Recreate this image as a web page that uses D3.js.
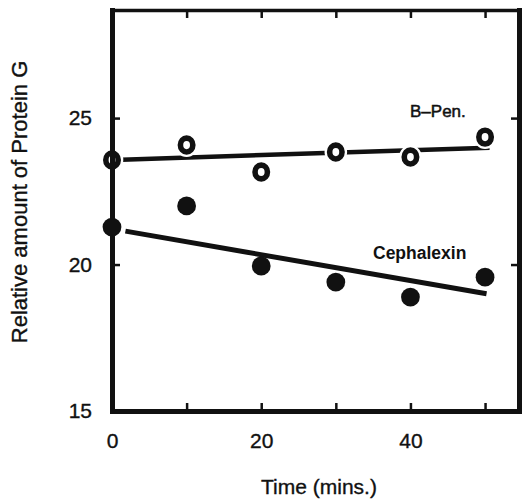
<!DOCTYPE html>
<html>
<head>
<meta charset="utf-8">
<script src="https://cdn.jsdelivr.net/npm/d3@7"></script>
<style>
  html, body { margin: 0; padding: 0; background: #fff; }
  svg { display: block; font-family: "Liberation Sans", Arial, Helvetica, sans-serif; }
</style>
</head>
<body>
<svg id="chart" width="526" height="501"></svg>
<script>
// ---- data ----
const times = [0, 10, 20, 30, 40, 50];
const bPen = [23.57, 24.08, 23.16, 23.84, 23.67, 24.35];
const cephalexin = [21.28, 22.0, 19.95, 19.40, 18.89, 19.57];
// fitted trend lines (end points as drawn)
const bPenFitT = [1.3, 50.6];
const bPenFitV = [23.58, 23.99];
const cephFitT = [1.8, 50.2];
const cephFitV = [21.14, 19.0];
const xTicks = [0, 10, 20, 30, 40, 50];
const xTickLabels = ["0", "", "20", "", "40", ""];
const yTicks = [15, 20, 25];
const seriesLabels = ["B–Pen.", "Cephalexin"];
const xTitle = "Time (mins.)";
const yTitle = "Relative amount of Protein G";

// ---- layout ----
const svg = d3.select("#chart");
const pLeft = 112, pRight = 519, pTop = 10, pBottom = 411;
const x = d3.scaleLinear().domain([0, 54.55]).range([pLeft, pRight]);
const y = d3.scaleLinear().domain([15, 28.69]).range([pBottom, pTop]);
const ink = "#111";

// trend lines
const line = d3.line().x(d => x(d[0])).y(d => y(d[1]));
svg.append("path")
  .datum(d3.zip(cephFitT, cephFitV))
  .attr("d", line).attr("fill", "none").attr("stroke", ink).attr("stroke-width", 5);
svg.append("path")
  .datum(d3.zip(bPenFitT, bPenFitV))
  .attr("d", line).attr("fill", "none").attr("stroke", ink).attr("stroke-width", 4.5);

// Cephalexin: filled circles
svg.append("g").selectAll("circle")
  .data(d3.zip(times, cephalexin)).join("circle")
  .attr("cx", d => x(d[0])).attr("cy", d => y(d[1]))
  .attr("r", 9.4).attr("fill", ink);

// B-Pen: open "0" rings with a white halo that breaks the line
const bg = svg.append("g");
bg.selectAll("ellipse.halo")
  .data(d3.zip(times, bPen)).join("ellipse")
  .attr("class", "halo")
  .attr("cx", d => x(d[0])).attr("cy", d => y(d[1]))
  .attr("rx", 8.8).attr("ry", 9.5)
  .attr("fill", "none").attr("stroke", "#fff").attr("stroke-width", 5);
bg.selectAll("ellipse.ring")
  .data(d3.zip(times, bPen)).join("ellipse")
  .attr("class", "ring")
  .attr("cx", d => x(d[0])).attr("cy", d => y(d[1]))
  .attr("rx", 6.2).attr("ry", 6.9)
  .attr("fill", "#fff").attr("stroke", ink).attr("stroke-width", 5.6);

// ---- axes (ticks point inward) ----
function styleAxis(g, w) {
  g.select(".domain").attr("stroke", ink).attr("stroke-width", w).attr("stroke-linecap", "square");
  g.selectAll(".tick line").attr("stroke", ink).attr("stroke-width", 2.5);
  g.selectAll(".tick text").attr("fill", ink)
    .attr("stroke", ink).attr("stroke-width", 0.35)
    .style("font-size", "21px")
    .style("font-family", "'Liberation Sans', Arial, sans-serif");
}
const fmtX = d => xTickLabels[xTicks.indexOf(d)];

svg.append("g").attr("transform", `translate(0,${pBottom})`)
  .call(d3.axisBottom(x).tickValues(xTicks).tickFormat(fmtX).tickSizeInner(-8).tickSizeOuter(0).tickPadding(22))
  .call(g => styleAxis(g, 5));
svg.append("g").attr("transform", `translate(0,${pTop})`)
  .call(d3.axisTop(x).tickValues(xTicks).tickFormat("").tickSizeInner(-8).tickSizeOuter(0))
  .call(g => styleAxis(g, 3.5));
svg.append("g").attr("transform", `translate(${pLeft},0)`)
  .call(d3.axisLeft(y).tickValues(yTicks).tickFormat(d3.format("d")).tickSizeInner(-8).tickSizeOuter(0).tickPadding(20))
  .call(g => styleAxis(g, 5));
svg.append("g").attr("transform", `translate(${pRight},0)`)
  .call(d3.axisRight(y).tickValues(yTicks).tickFormat("").tickSizeInner(-8).tickSizeOuter(0))
  .call(g => styleAxis(g, 5));

// ---- labels ----
svg.append("text")
  .attr("x", 410).attr("y", 117)
  .attr("fill", ink).style("font-size", "17px")
  .attr("stroke", ink).attr("stroke-width", 0.5)
  .text(seriesLabels[0]);
svg.append("text")
  .attr("x", 373).attr("y", 259)
  .attr("fill", ink).style("font-size", "17.5px").style("font-weight", "bold")
  .text(seriesLabels[1]);

svg.append("text")
  .attr("x", 319).attr("y", 494).attr("text-anchor", "middle")
  .attr("fill", ink).attr("stroke", ink).attr("stroke-width", 0.35)
  .style("font-size", "21px")
  .text(xTitle);
svg.append("text")
  .attr("transform", "translate(27,202) rotate(-90)")
  .attr("text-anchor", "middle")
  .attr("fill", ink).attr("stroke", ink).attr("stroke-width", 0.35)
  .style("font-size", "22px")
  .text(yTitle);
</script>
</body>
</html>
